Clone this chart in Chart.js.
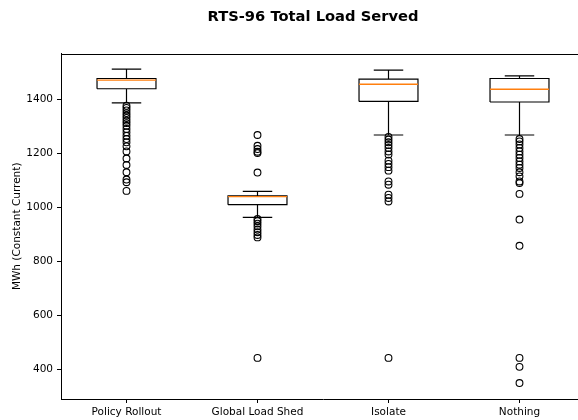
<!DOCTYPE html>
<html><head><meta charset="utf-8">
<script src="https://cdn.jsdelivr.net/npm/chart.js@4/dist/chart.umd.min.js"></script>
<style>html,body{margin:0;padding:0;overflow:hidden;background:#fff;width:578px;height:420px}
#wrap{position:relative;width:626px;height:420px}</style></head>
<body><div id="wrap"><canvas id="c" width="626" height="420"></canvas></div>
<script>
const categories = ['Policy Rollout', 'Global Load Shed', 'Isolate', 'Nothing'];
const whiskerLow  = [1386, 962, 1267, 1267];
const q1          = [1438, 1009, 1391, 1389];
const median      = [1470, 1039, 1455, 1436];
const q3          = [1476, 1042, 1474, 1476];
const whiskerHigh = [1511, 1058, 1507, 1486];
const fliersPolicy = [1375,1367,1358,1348,1339,1330,1320,1311,1301,1289,1277,1264,1252,1240,1225,1206,1180,1156,1129,1102,1092,1060];
const fliersGlobal = [1267,1227,1215,1205,1200,1128,956,948,939,929,917,907,897,888,442];
const fliersIsolate = [1260,1250,1240,1230,1219,1206,1195,1172,1160,1148,1135,1095,1083,1046,1034,1021,442];
const fliersNothing = [1252,1243,1232,1219,1206,1194,1182,1169,1157,1145,1129,1114,1095,1089,1049,954,857,442,409,349];
const fliers = [fliersPolicy, fliersGlobal, fliersIsolate, fliersNothing];
const yTicks = [400, 600, 800, 1000, 1200, 1400];
const yMin = 290, yMax = 1568;

const BOX_HALF = 0.225, CAP_HALF = 0.1125;

function addSeg(arr, pts) { pts.forEach(p => arr.push(p)); arr.push({x: pts[pts.length-1].x, y: null}); }
const blackLines = [], medianLines = [], flierPts = [];
categories.forEach((_, i) => {
  const x = i + 1;
  addSeg(blackLines, [{x:x-BOX_HALF,y:q1[i]},{x:x-BOX_HALF,y:q3[i]},{x:x+BOX_HALF,y:q3[i]},{x:x+BOX_HALF,y:q1[i]},{x:x-BOX_HALF,y:q1[i]}]);
  addSeg(blackLines, [{x:x,y:q3[i]},{x:x,y:whiskerHigh[i]}]);
  addSeg(blackLines, [{x:x-CAP_HALF,y:whiskerHigh[i]},{x:x+CAP_HALF,y:whiskerHigh[i]}]);
  addSeg(blackLines, [{x:x,y:q1[i]},{x:x,y:whiskerLow[i]}]);
  addSeg(blackLines, [{x:x-CAP_HALF,y:whiskerLow[i]},{x:x+CAP_HALF,y:whiskerLow[i]}]);
  addSeg(medianLines, [{x:x-BOX_HALF,y:median[i]},{x:x+BOX_HALF,y:median[i]}]);
  fliers[i].forEach(v => flierPts.push({x:x, y:v}));
});

const frame = {
  id: 'frame',
  afterDraw(chart) {
    const {ctx, chartArea: a} = chart;
    ctx.save();
    ctx.strokeStyle = '#000';
    ctx.lineWidth = 1;
    ctx.beginPath();
    const t = Math.round(a.top) + 0.5;
    ctx.moveTo(a.left, t); ctx.lineTo(a.right + 10, t);
    ctx.stroke();
    ctx.restore();
  }
};

const font = {family: 'DejaVu Sans', size: 10.5};
new Chart(document.getElementById('c'), {
  type: 'line',
  data: {
    datasets: [
      {data: medianLines, borderColor: '#ff7f0e', borderWidth: 1.4, pointRadius: 0, spanGaps: false, tension: 0, fill: false},
      {data: blackLines, borderColor: '#000', borderWidth: 1.2, pointRadius: 0, spanGaps: false, tension: 0, fill: false},
      {data: flierPts, showLine: false, pointRadius: 3.4, pointBorderColor: '#000', pointBackgroundColor: 'rgba(0,0,0,0)', pointBorderWidth: 1.1}
    ]
  },
  options: {
    responsive: false, animation: false, devicePixelRatio: 1,
    layout: {padding: 0},
    plugins: {
      legend: {display: false}, tooltip: {enabled: false},
      title: {display: true, text: 'RTS-96 Total Load Served', color: '#000',
        font: {family: 'DejaVu Sans', size: 14.7, weight: 'bold'}, padding: {top: 8, bottom: 28}}
    },
    scales: {
      x: {
        type: 'linear', min: 0.5, max: 4.5,
        grid: {drawOnChartArea: false, tickLength: 4, color: '#000'},
        border: {color: '#000'},
        ticks: {font, color: '#000', padding: 3, autoSkip: false, maxRotation: 0,
          callback: v => categories[v - 1] ?? ''},
        afterBuildTicks: s => { s.ticks = categories.map((_, i) => ({value: i + 1})); },
        afterFit: s => { s.height = 21; }
      },
      y: {
        min: yMin, max: yMax,
        grid: {drawOnChartArea: false, tickLength: 4, color: '#000'},
        border: {color: '#000'},
        ticks: {font, color: '#000', padding: 4, callback: v => String(v)},
        afterBuildTicks: s => { s.ticks = yTicks.map(v => ({value: v})); },
        title: {display: true, text: 'MWh (Constant Current)', font, color: '#000', padding: {top: 11, bottom: 0}},
        afterFit: s => { s.width = 61; }
      },
      yRight: {
        position: 'right', display: true,
        grid: {display: false}, border: {display: false}, ticks: {display: false},
        afterFit: s => { s.width = 41; }
      }
    }
  },
  plugins: [frame]
});
</script></body></html>
